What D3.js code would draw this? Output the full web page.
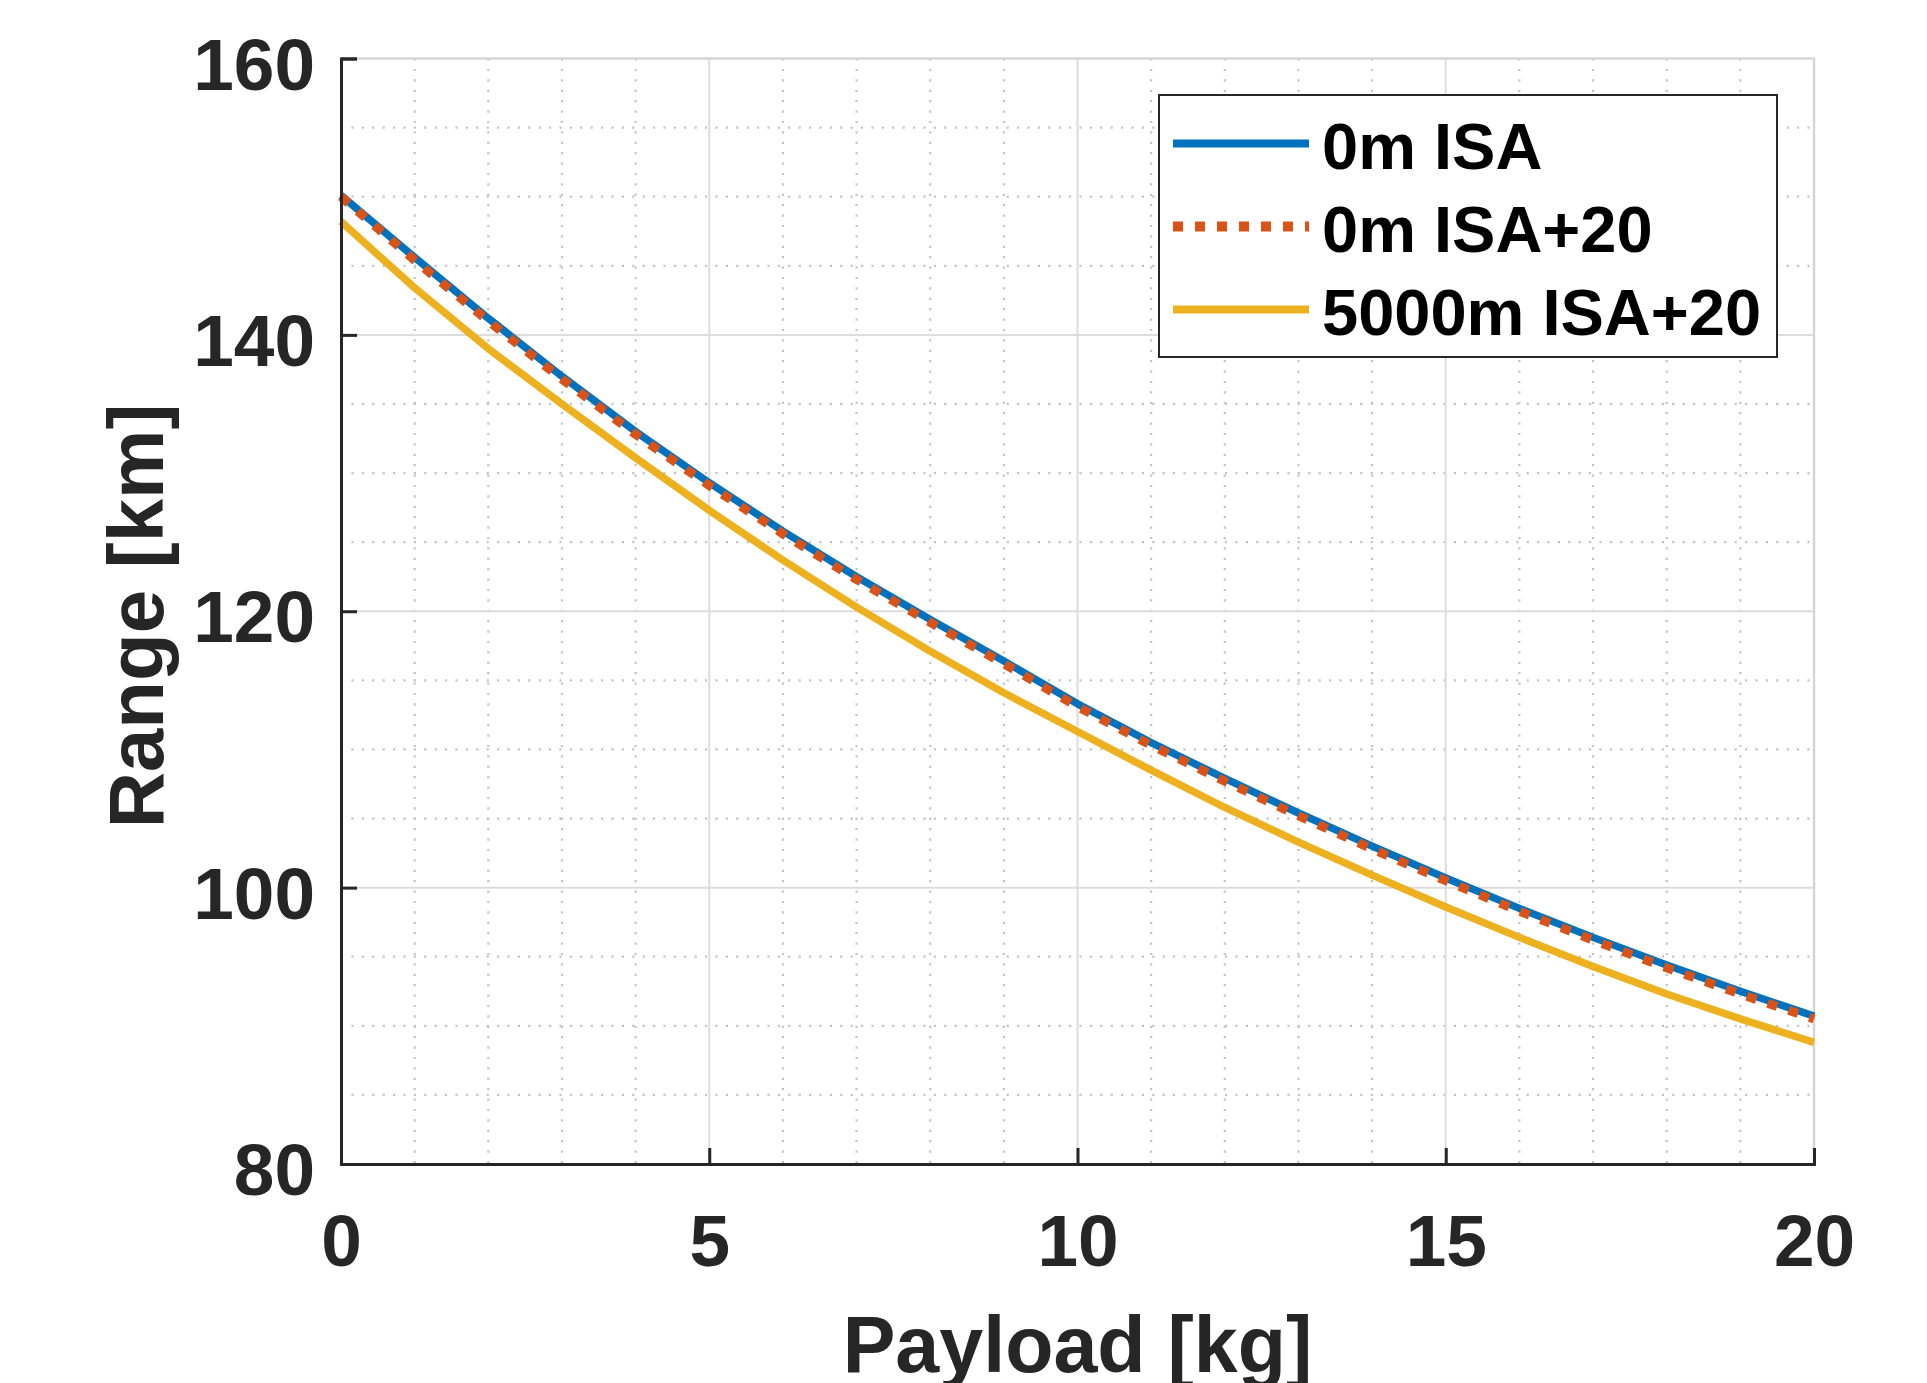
<!DOCTYPE html>
<html>
<head>
<meta charset="utf-8">
<script src="https://cdn.jsdelivr.net/npm/d3@7"></script>
<style>
  body { margin: 0; background: #fff; }
  text { font-family: "Liberation Sans", Arial, sans-serif; font-weight: bold; }
</style>
</head>
<body>
<div id="chart"></div>
<script>
// payload [kg] vs range [km], one point per kg
var payload = [0, 1, 2, 3, 4, 5, 6, 7, 8, 9, 10, 11, 12, 13, 14, 15, 16, 17, 18, 19, 20];
var range0mISA = [150.1, 145.6, 141.2, 137.0, 133.0, 129.3, 125.8, 122.5, 119.4, 116.4, 113.3,
    110.5, 107.9, 105.4, 103.0, 100.7, 98.5, 96.4, 94.4, 92.5, 90.7];
var range0mISA20 = [150.0, 145.4, 141.0, 136.8, 132.8, 129.1, 125.6, 122.3, 119.2, 116.2, 113.1,
    110.3, 107.7, 105.2, 102.8, 100.5, 98.3, 96.2, 94.2, 92.3, 90.5];
var range5000mISA20 = [148.2, 143.4, 139.0, 135.0, 131.1, 127.3, 123.7, 120.3, 117.1, 114.1, 111.3,
    108.5, 105.8, 103.3, 100.9, 98.6, 96.4, 94.3, 92.3, 90.5, 88.8];
var seriesNames = ["0m ISA", "0m ISA+20", "5000m ISA+20"];
var xTicks = [0, 5, 10, 15, 20];
var yTicks = [80, 100, 120, 140, 160];

var chart = (function() {
    "use strict";
    var width = 1927, height = 1383;
    var left = 341, right = 1814, top = 58.5, bottom = 1164;
    var ink = "#262626";

    var svg = d3.select("#chart").append("svg")
        .attr("width", width)
        .attr("height", height);

    var x = d3.scaleLinear().domain([0, 20]).range([left, right]);
    var y = d3.scaleLinear().domain([80, 160]).range([bottom, top]);

    var series = [
        { name: seriesNames[0], values: range0mISA, color: "#0072BD", dash: null },
        { name: seriesNames[1], values: range0mISA20, color: "#D95319", dash: "10,12" },
        { name: seriesNames[2], values: range5000mISA20, color: "#EDB120", dash: null }
    ];

    // minor grid (dotted)
    var grid = svg.append("g");
    grid.selectAll(".xminor")
        .data(d3.range(1, 20).filter(function(d) { return d % 5 !== 0; }))
        .enter().append("line")
        .attr("x1", function(d) { return x(d); })
        .attr("x2", function(d) { return x(d); })
        .attr("y1", top).attr("y2", bottom)
        .attr("stroke", "#c4c4c4").attr("stroke-width", 2.2)
        .attr("stroke-dasharray", "2.2,8.2");
    grid.selectAll(".yminor")
        .data(d3.range(85, 160, 5).filter(function(d) { return d % 20 !== 0; }))
        .enter().append("line")
        .attr("y1", function(d) { return y(d); })
        .attr("y2", function(d) { return y(d); })
        .attr("x1", left).attr("x2", right)
        .attr("stroke", "#c4c4c4").attr("stroke-width", 2.2)
        .attr("stroke-dasharray", "2.2,8.2");

    // major grid
    grid.selectAll(".xmajor")
        .data(xTicks.slice(1, -1))
        .enter().append("line")
        .attr("x1", function(d) { return x(d); })
        .attr("x2", function(d) { return x(d); })
        .attr("y1", top).attr("y2", bottom)
        .attr("stroke", "#dcdcdc").attr("stroke-width", 2);
    grid.selectAll(".ymajor")
        .data(yTicks.slice(1, -1))
        .enter().append("line")
        .attr("y1", function(d) { return y(d); })
        .attr("y2", function(d) { return y(d); })
        .attr("x1", left).attr("x2", right)
        .attr("stroke", "#dcdcdc").attr("stroke-width", 2);

    // box top and right
    svg.append("path")
        .attr("d", "M" + left + "," + top + "H" + right + "V" + bottom)
        .attr("fill", "none").attr("stroke", "#d6d6d6").attr("stroke-width", 2.5);

    // curves
    var line = d3.line()
        .x(function(d, i) { return x(payload[i]); })
        .y(function(d) { return y(d); });
    svg.append("g").selectAll("path")
        .data(series)
        .enter().append("path")
        .attr("d", function(d) { return line(d.values); })
        .attr("fill", "none")
        .attr("stroke", function(d) { return d.color; })
        .attr("stroke-width", function(d) { return d.dash ? 9 : 7.5; })
        .attr("stroke-dasharray", function(d) { return d.dash; })
        .attr("stroke-linejoin", "round");

    // axes with inward ticks
    var xAxis = d3.axisBottom(x).tickValues(xTicks).tickSize(-16).tickPadding(50)
        .tickFormat(d3.format("d"));
    var yAxis = d3.axisLeft(y).tickValues(yTicks).tickSize(-16).tickPadding(26)
        .tickFormat(d3.format("d"));

    var gx = svg.append("g").attr("transform", "translate(0," + bottom + ")").call(xAxis);
    var gy = svg.append("g").attr("transform", "translate(" + left + ",0)").call(yAxis);
    [gx, gy].forEach(function(g) {
        g.select(".domain").attr("stroke", ink).attr("stroke-width", 3);
        g.selectAll(".tick line").attr("stroke", ink).attr("stroke-width", 3);
        g.selectAll(".tick text")
            .attr("fill", ink)
            .style("font-size", "73px");
    });
    gy.selectAll(".tick text").attr("dy", "0.42em");
    gx.selectAll(".tick text").attr("dy", "0.71em");

    // axis titles
    svg.append("text")
        .attr("x", (left + right) / 2)
        .attr("y", 1372)
        .attr("text-anchor", "middle")
        .attr("fill", ink)
        .style("font-size", "79px")
        .text("Payload [kg]");
    svg.append("text")
        .attr("transform", "translate(163,616) rotate(-90)")
        .attr("text-anchor", "middle")
        .attr("fill", ink)
        .style("font-size", "78px")
        .text("Range [km]");

    // legend
    var lg = svg.append("g");
    lg.append("rect")
        .attr("x", 1159).attr("y", 95)
        .attr("width", 618).attr("height", 262)
        .attr("fill", "#fff").attr("stroke", ink).attr("stroke-width", 2);
    var rows = lg.selectAll(".row")
        .data(series)
        .enter().append("g")
        .attr("transform", function(d, i) { return "translate(0," + (143.5 + i * 83) + ")"; });
    rows.append("line")
        .attr("x1", 1173).attr("x2", 1309)
        .attr("stroke", function(d) { return d.color; })
        .attr("stroke-width", function(d) { return d.dash ? 10 : 8; })
        .attr("stroke-dasharray", function(d) { return d.dash ? "10,12" : null; });
    rows.append("text")
        .attr("x", 1322)
        .attr("y", 2)
        .attr("dy", "0.36em")
        .attr("fill", "#000")
        .style("font-size", "65px")
        .text(function(d) { return d.name; });
})();
</script>
</body>
</html>
